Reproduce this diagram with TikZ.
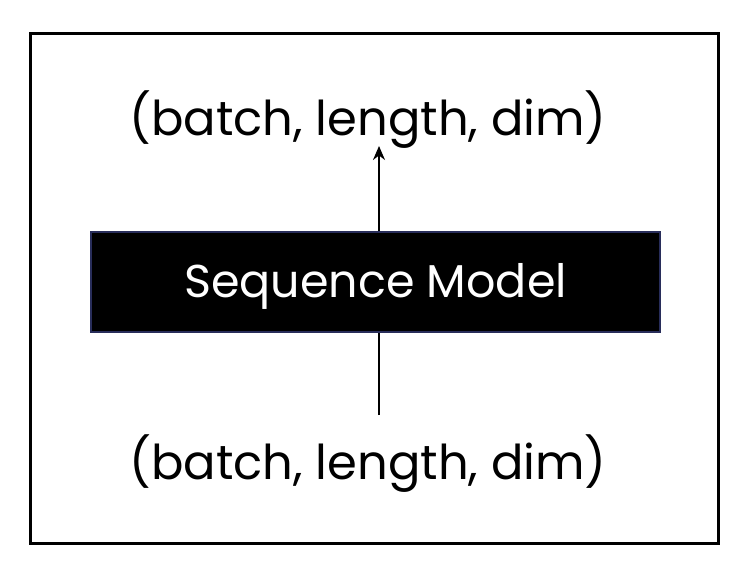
\documentclass[tikz,border=0pt]{standalone}
\usepackage{fontspec}
\setmainfont{Poppins}
\usetikzlibrary{arrows.meta}
\begin{document}
\begin{tikzpicture}[x=1pt,y=-1pt,
  frame/.style={draw=black,line width=3pt},
  modelbox/.style={draw={rgb,255:red,40;green,45;blue,90},line width=1.2pt,fill=black},
  shapelbl/.style={inner sep=0pt,font=\fontsize{48}{56}\selectfont},
  conn/.style={line width=2pt}]
\useasboundingbox (0,0) rectangle (746,574);
\draw[frame] (30,33) rectangle (718,543);
\node[modelbox,minimum width=569pt,minimum height=100pt,inner sep=0pt,
  text=white,text depth=0pt,text height=30pt,font=\fontsize{46}{54}\selectfont] (model) at (375.5,282) {Sequence Model};
\node[shapelbl,anchor=center] (out) at (368,120) {(batch, length, dim)};
\node[shapelbl,anchor=center] (in) at (368,464) {(batch, length, dim)};
\coordinate (outtip) at (379,146);
\coordinate (inbase) at (379,415);
\draw[conn,-{Stealth[length=14pt,width=12pt]}] (model.north -| outtip) -- (outtip);
\draw[conn] (inbase) -- (model.south -| inbase);
\end{tikzpicture}
\end{document}
